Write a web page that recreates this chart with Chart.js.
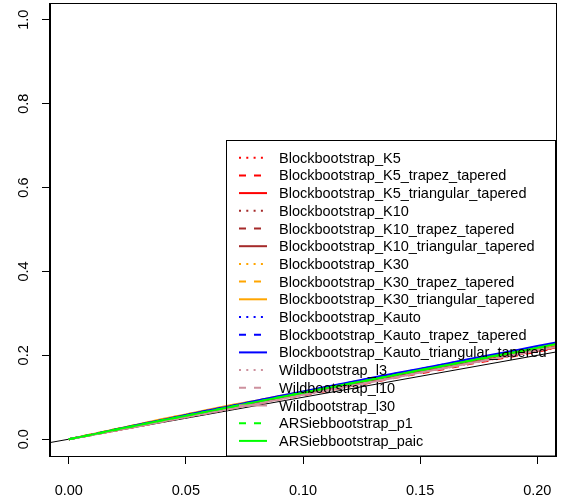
<!DOCTYPE html>
<html>
<head>
<meta charset="utf-8">
<script src="https://cdn.jsdelivr.net/npm/chart.js@4"></script>
<style>
html,body{margin:0;padding:0;background:#fff;}
#wrap{width:571px;height:500px;position:relative;}
</style>
</head>
<body>
<div id="wrap"><canvas id="c" width="571" height="500"></canvas></div>
<script>
// ---- data ----
const levels = [0,0.01,0.02,0.03,0.04,0.05,0.06,0.07,0.08,0.09,0.10,0.11,0.12,0.13,0.14,0.15,0.16,0.17,0.18,0.19,0.20,0.21,0.22];
const seriesNames = [
  "Blockbootstrap_K5","Blockbootstrap_K5_trapez_tapered","Blockbootstrap_K5_triangular_tapered",
  "Blockbootstrap_K10","Blockbootstrap_K10_trapez_tapered","Blockbootstrap_K10_triangular_tapered",
  "Blockbootstrap_K30","Blockbootstrap_K30_trapez_tapered","Blockbootstrap_K30_triangular_tapered",
  "Blockbootstrap_Kauto","Blockbootstrap_Kauto_trapez_tapered","Blockbootstrap_Kauto_triangular_tapered",
  "Wildbootstrap_l3","Wildbootstrap_l10","Wildbootstrap_l30",
  "ARSiebbootstrap_p1","ARSiebbootstrap_paic"
];
const K5        = [0,0.010,0.021,0.032,0.043,0.054,0.064,0.075,0.086,0.096,0.106,0.117,0.128,0.138,0.149,0.159,0.169,0.180,0.190,0.200,0.210,0.220,0.231];
const K5_trap   = [0,0.010,0.021,0.031,0.042,0.053,0.063,0.074,0.084,0.095,0.105,0.115,0.126,0.136,0.147,0.157,0.167,0.178,0.188,0.198,0.209,0.219,0.229];
const K5_tri    = [0,0.011,0.021,0.032,0.043,0.054,0.065,0.075,0.086,0.097,0.107,0.118,0.128,0.139,0.149,0.160,0.170,0.181,0.191,0.201,0.211,0.221,0.232];
const K10       = [0,0.011,0.022,0.033,0.044,0.055,0.066,0.076,0.087,0.097,0.108,0.119,0.129,0.140,0.151,0.161,0.172,0.182,0.193,0.203,0.213,0.224,0.234];
const K10_trap  = [0,0.011,0.022,0.033,0.043,0.054,0.065,0.076,0.086,0.097,0.108,0.118,0.129,0.139,0.150,0.161,0.171,0.182,0.192,0.203,0.213,0.223,0.234];
const K10_tri   = [0,0.011,0.022,0.033,0.044,0.055,0.066,0.077,0.087,0.098,0.109,0.119,0.130,0.141,0.151,0.162,0.173,0.183,0.194,0.204,0.214,0.225,0.235];
const K30       = [0,0.012,0.024,0.035,0.047,0.058,0.069,0.080,0.091,0.101,0.112,0.122,0.133,0.144,0.154,0.165,0.175,0.186,0.196,0.206,0.216,0.226,0.237];
const K30_trap  = [0,0.012,0.024,0.036,0.047,0.059,0.070,0.081,0.092,0.102,0.113,0.123,0.134,0.144,0.155,0.165,0.176,0.186,0.197,0.207,0.217,0.227,0.238];
const K30_tri   = [0,0.012,0.024,0.036,0.048,0.059,0.071,0.082,0.092,0.103,0.113,0.124,0.134,0.145,0.155,0.166,0.176,0.187,0.197,0.207,0.217,0.228,0.238];
const Kauto     = [0,0.011,0.022,0.034,0.045,0.057,0.068,0.079,0.090,0.101,0.112,0.123,0.134,0.145,0.156,0.166,0.177,0.188,0.198,0.209,0.219,0.230,0.240];
const Kauto_trap= [0,0.011,0.023,0.034,0.046,0.057,0.069,0.080,0.091,0.102,0.113,0.124,0.135,0.146,0.157,0.167,0.178,0.189,0.199,0.210,0.220,0.231,0.241];
const Kauto_tri = [0,0.011,0.023,0.035,0.046,0.058,0.069,0.080,0.092,0.103,0.114,0.125,0.136,0.147,0.158,0.168,0.179,0.190,0.201,0.211,0.222,0.233,0.243];
const Wild_l3   = [0,0.010,0.021,0.031,0.042,0.052,0.063,0.073,0.084,0.095,0.105,0.116,0.126,0.137,0.148,0.158,0.169,0.179,0.190,0.201,0.211,0.222,0.232];
const Wild_l10  = [0,0.010,0.021,0.032,0.042,0.053,0.063,0.074,0.085,0.095,0.106,0.116,0.127,0.138,0.148,0.159,0.169,0.180,0.191,0.201,0.212,0.222,0.233];
const Wild_l30  = [0,0.010,0.021,0.031,0.042,0.053,0.063,0.074,0.084,0.095,0.106,0.116,0.127,0.137,0.148,0.159,0.169,0.180,0.190,0.201,0.212,0.222,0.233];
const AR_p1     = [0,0.011,0.022,0.034,0.045,0.056,0.067,0.078,0.089,0.100,0.111,0.121,0.132,0.143,0.154,0.164,0.175,0.186,0.196,0.207,0.217,0.228,0.239];
const AR_paic   = [0,0.011,0.023,0.034,0.045,0.056,0.067,0.078,0.089,0.100,0.111,0.122,0.133,0.143,0.154,0.165,0.175,0.186,0.197,0.207,0.218,0.229,0.240];
const seriesValues = [K5,K5_trap,K5_tri,K10,K10_trap,K10_tri,K30,K30_trap,K30_tri,Kauto,Kauto_trap,Kauto_tri,Wild_l3,Wild_l10,Wild_l30,AR_p1,AR_paic];
const xTicks = [0,0.05,0.10,0.15,0.20];
const yTicks = [0,0.2,0.4,0.6,0.8,1.0];
const xLimits = [-0.008,0.208];
const yLimits = [-0.04,1.04];

// ---- styles ----
const colors = ["#FF0000","#FF0000","#FF0000","#A52A2A","#A52A2A","#A52A2A","#FFA500","#FFA500","#FFA500",
  "#0000FF","#0000FF","#0000FF","#CD919E","#CD919E","#CD919E","#00FF00","#00FF00"];
const DOT=[2,5.3], DASH=[7,8], SOLID=[];
const dashes = [DOT,DASH,SOLID,DOT,DASH,SOLID,DOT,DASH,SOLID,DOT,DASH,SOLID,DOT,DASH,SOLID,DASH,SOLID];
const FONT = '14.5px "Liberation Sans", Arial, Helvetica, sans-serif';

const N = seriesNames.length;
const datasets = seriesNames.map((name,i)=>({
  label:name,
  data: levels.map((x,j)=>({x:x,y:seriesValues[i][j]})),
  borderColor:colors[i], borderWidth:2, borderDash:dashes[i],
  pointRadius:0, fill:false, tension:0, order:N-i
}));
datasets.push({label:"diag", data:[{x:xLimits[0],y:xLimits[0]},{x:xLimits[1],y:xLimits[1]}],
  borderColor:"#000", borderWidth:1, pointRadius:0, order:N+1});

const rPlugin = {
  id:'rstyle',
  afterDatasetsDraw(chart){
    const ctx=chart.ctx, a=chart.chartArea;
    ctx.save();
    // legend
    const L=226.5, T=140.5, R=a.right-0.5, B=a.bottom;
    ctx.strokeStyle="#000"; ctx.lineWidth=1; ctx.setLineDash([]);
    ctx.strokeRect(L,T,R-L,B-T);
    ctx.font=FONT; ctx.textBaseline='middle'; ctx.textAlign='left'; ctx.fillStyle='#000';
    for(let i=0;i<N;i++){
      const y=T+17.2+i*17.7;
      ctx.beginPath(); ctx.strokeStyle=colors[i]; ctx.lineWidth=2; ctx.setLineDash(dashes[i]);
      ctx.moveTo(239,y); ctx.lineTo(267,y); ctx.stroke();
      ctx.setLineDash([]);
      ctx.fillText(seriesNames[i],279,y+1);
    }
    ctx.restore();
  },
  afterDraw(chart){
    const ctx=chart.ctx, a=chart.chartArea, ys=chart.scales.y;
    ctx.save();
    ctx.strokeStyle="#000"; ctx.lineWidth=1; ctx.setLineDash([]);
    ctx.strokeRect(Math.round(a.left)-0.5,Math.round(a.top)+0.5,Math.round(a.right-a.left)+1,Math.round(a.bottom-a.top));
    ctx.font=FONT; ctx.fillStyle='#000'; ctx.textAlign='center'; ctx.textBaseline='middle';
    yTicks.forEach(v=>{
      const py=ys.getPixelForValue(v);
      ctx.save(); ctx.translate(24,py); ctx.rotate(-Math.PI/2);
      ctx.fillText(v.toFixed(1),0,0); ctx.restore();
    });
    ctx.restore();
  }
};

new Chart(document.getElementById('c'),{
  type:'line',
  data:{datasets},
  options:{
    responsive:false, animation:false, devicePixelRatio:1,
    layout:{padding:{top:3,right:15,left:0,bottom:0}},
    plugins:{legend:{display:false},tooltip:{enabled:false}},
    elements:{line:{borderCapStyle:'butt'}},
    datasets:{line:{clip:0}},
    scales:{
      x:{type:'linear',min:xLimits[0],max:xLimits[1],
        afterBuildTicks(s){s.ticks=xTicks.map(v=>({value:v}));},
        afterFit(s){s.height=44;},
        grid:{drawOnChartArea:false,drawTicks:true,tickLength:8,color:'#000'},
        border:{display:true,color:'#000'},
        ticks:{autoSkip:false,maxRotation:0,minRotation:0,padding:18,color:'#000',
          font:{family:'"Liberation Sans", Arial, Helvetica, sans-serif',size:14.5},
          callback:(v)=>Number(v).toFixed(2)}
      },
      y:{type:'linear',min:yLimits[0],max:yLimits[1],
        afterBuildTicks(s){s.ticks=yTicks.map(v=>({value:v}));},
        afterFit(s){s.width=50;},
        grid:{drawOnChartArea:false,drawTicks:true,tickLength:8,color:'#000'},
        border:{display:true,color:'#000'},
        ticks:{display:false}
      }
    }
  },
  plugins:[rPlugin]
});
</script>
</body>
</html>
